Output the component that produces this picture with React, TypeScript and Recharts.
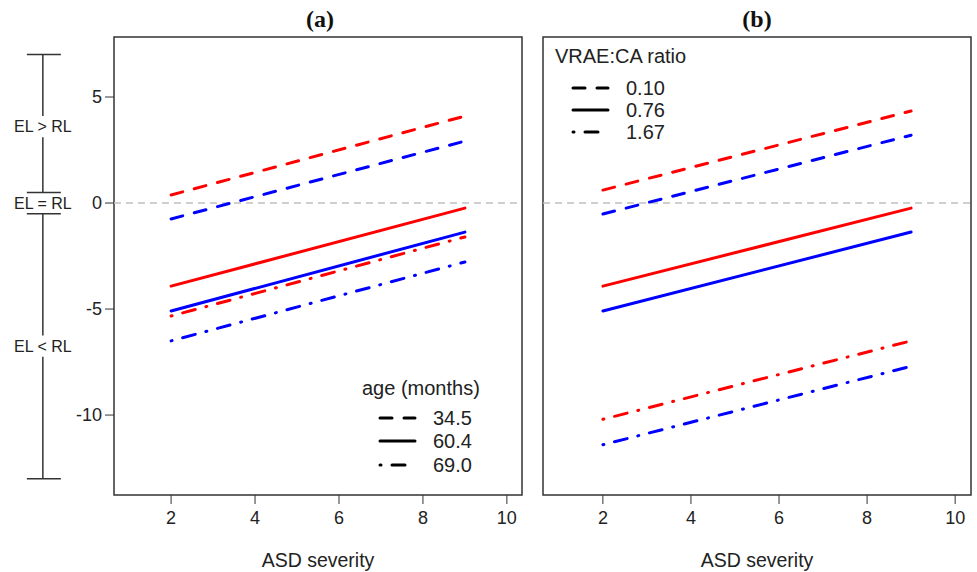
import React from 'react';
import { LineChart, Line, XAxis, YAxis, ReferenceLine, ReferenceArea, ReferenceDot, Label } from 'recharts';

const severity = [2, 9];
const xTicks = [2, 4, 6, 8, 10];
const yTicks = [-10, -5, 0, 5];
const xDomain: [number, number] = [0.64, 10.36];
const yDomain: [number, number] = [-13.77, 7.83];

// panel (a): age (months)
const ageLabels = ['34.5', '60.4', '69.0'];
const ageRedDashed = [0.38, 4.1];
const ageBlueDashed = [-0.75, 2.92];
const ageRedSolid = [-3.92, -0.24];
const ageBlueSolid = [-5.09, -1.37];
const ageRedDotDash = [-5.33, -1.6];
const ageBlueDotDash = [-6.5, -2.78];

// panel (b): VRAE:CA ratio
const ratioLabels = ['0.10', '0.76', '1.67'];
const ratioRedDashed = [0.61, 4.34];
const ratioBlueDashed = [-0.52, 3.2];
const ratioRedSolid = [-3.92, -0.24];
const ratioBlueSolid = [-5.09, -1.37];
const ratioRedDotDash = [-10.2, -6.5];
const ratioBlueDotDash = [-11.4, -7.7];

// bracket left of panel (a), in data units
const bracketTop = 7;
const bracketBottom = -13;
const bracketMid = 0.5;
const bracketText = ['EL > RL', 'EL = RL', 'EL < RL'];
const bracketTextY = [3.6, 0, -6.75];

const RED = '#ff0000';
const BLUE = '#0000ff';
const DASHES = ['12 12', '', '1 11 13 11'];
const SANS = '"Liberation Sans", Arial, sans-serif';
const AXIS = '#333';

const buildRows = (r: number[][]) =>
  severity.map((x, i) => ({
    x,
    redDashed: r[0][i],
    blueDashed: r[1][i],
    redSolid: r[2][i],
    blueSolid: r[3][i],
    redDotDash: r[4][i],
    blueDotDash: r[5][i],
  }));

const ageRows = buildRows([ageRedDashed, ageBlueDashed, ageRedSolid, ageBlueSolid, ageRedDotDash, ageBlueDotDash]);
const ratioRows = buildRows([
  ratioRedDashed,
  ratioBlueDashed,
  ratioRedSolid,
  ratioBlueSolid,
  ratioRedDotDash,
  ratioBlueDotDash,
]);

const series = [
  { key: 'redDashed', color: RED, dash: DASHES[0] },
  { key: 'blueDashed', color: BLUE, dash: DASHES[0] },
  { key: 'redSolid', color: RED, dash: DASHES[1] },
  { key: 'blueSolid', color: BLUE, dash: DASHES[1] },
  { key: 'redDotDash', color: RED, dash: DASHES[2] },
  { key: 'blueDotDash', color: BLUE, dash: DASHES[2] },
];

const tickStyle = { fontSize: 18, fill: '#222', fontFamily: SANS };

const renderLines = () =>
  series.map((s) => (
    <Line
      key={s.key}
      dataKey={s.key}
      stroke={s.color}
      strokeWidth={3}
      strokeDasharray={s.dash || undefined}
      strokeLinecap="round"
      dot={false}
      activeDot={false}
      isAnimationActive={false}
    />
  ));

const renderFrame = () => [
  <ReferenceLine key="zero" y={0} stroke="#c0c0c0" strokeWidth={1.5} strokeDasharray="7 5" />,
  <ReferenceArea
    key="box"
    x1={xDomain[0]}
    x2={xDomain[1]}
    y1={yDomain[0]}
    y2={yDomain[1]}
    fill="none"
    stroke={AXIS}
    strokeWidth={1.5}
    ifOverflow="visible"
  />,
];

const xAxis = (
  <XAxis
    type="number"
    dataKey="x"
    domain={xDomain}
    ticks={xTicks}
    interval={0}
    allowDataOverflow
    axisLine={false}
    tickSize={9}
    tickMargin={7}
    tick={tickStyle}
    tickLine={{ stroke: AXIS }}
    height={77}
  >
    <Label value="ASD severity" position="insideBottom" offset={5} fontSize={19.5} fill="#222" fontFamily={SANS} />
  </XAxis>
);

// bracket drawn in data space of panel (a)
const bx = -1.055;
const capL = -1.436;
const capR = -0.626;
const gap = 0.5;

const Bracket = () => {
  const segs = [
    [bracketTop, bracketTextY[0] + gap],
    [bracketTextY[0] - gap, bracketMid],
    [-bracketMid, bracketTextY[2] + gap],
    [bracketTextY[2] - gap, bracketBottom],
  ];
  const caps = [bracketTop, bracketMid, -bracketMid, bracketBottom];
  return [
    ...segs.map((s, i) => (
      <ReferenceLine
        key={'v' + i}
        segment={[
          { x: bx, y: s[0] },
          { x: bx, y: s[1] },
        ]}
        stroke={AXIS}
        strokeWidth={1.5}
        ifOverflow="visible"
      />
    )),
    ...caps.map((c, i) => (
      <ReferenceLine
        key={'c' + i}
        segment={[
          { x: capL, y: c },
          { x: capR, y: c },
        ]}
        stroke={AXIS}
        strokeWidth={1.5}
        ifOverflow="visible"
      />
    )),
    ...bracketText.map((t, i) => (
      <ReferenceDot
        key={'t' + i}
        x={bx}
        y={bracketTextY[i]}
        r={0}
        fill="none"
        stroke="none"
        ifOverflow="visible"
        label={{ value: t, position: 'center', fontSize: 16, fill: '#222', fontFamily: SANS }}
      />
    )),
  ];
};

const LegendBlock = ({
  title,
  labels,
  x,
  titleY,
  rowY,
}: {
  title: string;
  labels: string[];
  x: number;
  titleY: number;
  rowY: number[];
}) => (
  <g fontFamily={SANS} fontSize={20} fill="#222">
    <text x={x} y={titleY} dominantBaseline="central">
      {title}
    </text>
    {labels.map((l, i) => (
      <g key={l}>
        <line
          x1={x + 18}
          x2={x + 53}
          y1={rowY[i]}
          y2={rowY[i]}
          stroke="#000"
          strokeWidth={3}
          strokeLinecap="round"
          strokeDasharray={DASHES[i] || undefined}
        />
        <text x={x + 71} y={rowY[i]} dominantBaseline="central">
          {l}
        </text>
      </g>
    ))}
  </g>
);

export default function App() {
  return (
    <div style={{ position: 'absolute', left: 0, top: 0, width: 977, height: 572, background: '#fff' }}>
      <div style={{ position: 'absolute', left: 0, top: 0 }}>
        <LineChart width={530} height={572} data={ageRows} margin={{ top: 37, right: 8, bottom: 0, left: 54 }}>
          {xAxis}
          <YAxis
            type="number"
            domain={yDomain}
            ticks={yTicks}
            interval={0}
            allowDataOverflow
            width={60}
            axisLine={false}
            tickSize={9}
            tickMargin={3}
            tick={tickStyle}
            tickLine={{ stroke: AXIS }}
          />
          {renderFrame()}
          {Bracket()}
          {renderLines()}
        </LineChart>
      </div>
      <div style={{ position: 'absolute', left: 530, top: 0 }}>
        <LineChart width={447} height={572} data={ratioRows} margin={{ top: 37, right: 6, bottom: 0, left: 13 }}>
          {xAxis}
          <YAxis hide type="number" domain={yDomain} allowDataOverflow />
          {renderFrame()}
          {renderLines()}
        </LineChart>
      </div>
      <svg width={977} height={572} style={{ position: 'absolute', left: 0, top: 0, pointerEvents: 'none' }}>
        <g fontFamily='"Liberation Serif", "Times New Roman", serif' fontWeight="bold" fontSize={24} fill="#111" textAnchor="middle">
          <text x={320} y={19} dominantBaseline="central">
            (a)
          </text>
          <text x={757} y={19} dominantBaseline="central">
            (b)
          </text>
        </g>
        <LegendBlock title="age (months)" labels={ageLabels} x={362} titleY={388} rowY={[418, 441, 465]} />
        <LegendBlock title="VRAE:CA ratio" labels={ratioLabels} x={555} titleY={56} rowY={[88, 110, 132]} />
      </svg>
    </div>
  );
}
